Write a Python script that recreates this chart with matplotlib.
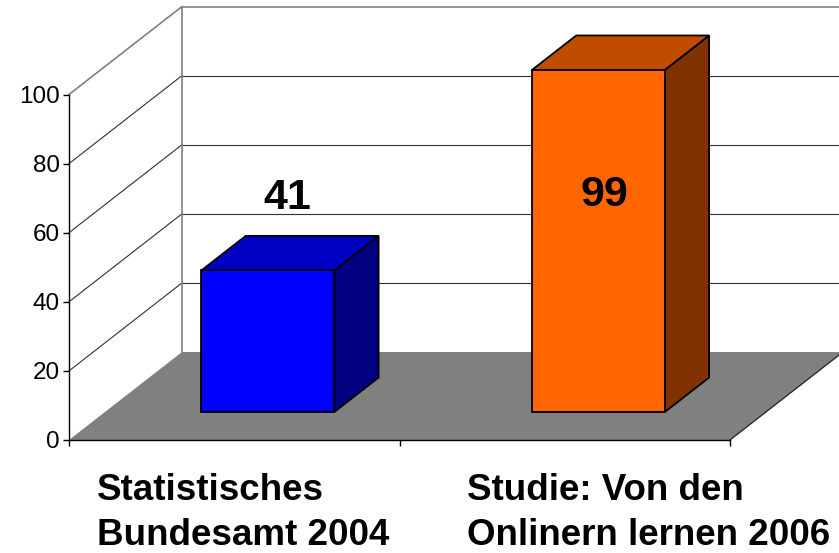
import matplotlib
matplotlib.use("Agg")
import matplotlib.pyplot as plt
from matplotlib.patches import Polygon

# ---- data ----
categories = ["Statistisches\nBundesamt 2004", "Studie: Von den\nOnlinern lernen 2006"]
values = [41, 99]
yticks = [0, 20, 40, 60, 80, 100]

# ---- styles / layout ----
front_colors = ["#0000FF", "#FF6600"]
top_colors = ["#0000C4", "#C04C00"]
side_colors = ["#000080", "#803300"]
FLOOR = "#808080"
WALL_EDGE = "#808080"
FONT = "Liberation Sans"

W, H = 839, 553
fig = plt.figure(figsize=(W / 100, H / 100), dpi=100)
ax = fig.add_axes([69 / W, (H - 440) / H, (730 - 69) / W, 345.5 / H])
n = len(categories)
ax.set_xlim(0, n)
ax.set_ylim(0, 100)
ax.patch.set_alpha(0)

# oblique depth offsets (in data units per unit depth)
DX = 113 / 330.5
DY = 88 / 3.455


def proj(x, d, v):
    return (x + d * DX, v + d * DY)


# floor
floor = Polygon([proj(0, 0, 0), proj(n, 0, 0), proj(n, 1, 0), proj(0, 1, 0)],
                closed=True, facecolor=FLOOR, edgecolor="none", clip_on=False, zorder=1)
ax.add_patch(floor)
ax.plot(*zip(proj(n, 0, 0), proj(n, 1, 0)), color="#202020", lw=0.9,
        clip_on=False, zorder=1.2)

# walls: gridlines
for v in yticks[1:]:
    c = WALL_EDGE if v == yticks[-1] else "#303030"
    lw = 1.2 if v == yticks[-1] else 0.8
    # left side wall
    ax.plot(*zip(proj(0, 0, v), proj(0, 1, v)), color=c, lw=lw, clip_on=False, zorder=1.1)
    # back wall
    ax.plot(*zip(proj(0, 1, v), proj(n + 0.05, 1, v)), color=c, lw=lw, clip_on=False, zorder=1.1)
ax.plot(*zip(proj(0, 1, 0), proj(0, 1, yticks[-1])), color=WALL_EDGE, lw=1.2,
        clip_on=False, zorder=1.1)

# bars
HALF_W = 0.201
D0, D1 = 0.318, 0.71
for i, v in enumerate(values):
    xc = i + 0.493
    xl, xr = xc - HALF_W, xc + HALF_W
    front = [proj(xl, D0, 0), proj(xr, D0, 0), proj(xr, D0, v), proj(xl, D0, v)]
    top = [proj(xl, D0, v), proj(xr, D0, v), proj(xr, D1, v), proj(xl, D1, v)]
    side = [proj(xr, D0, 0), proj(xr, D1, 0), proj(xr, D1, v), proj(xr, D0, v)]
    for pts, col in ((side, side_colors[i]), (top, top_colors[i]), (front, front_colors[i])):
        ax.add_patch(Polygon(pts, closed=True, facecolor=col, edgecolor="black",
                             lw=1.3, joinstyle="miter", clip_on=False, zorder=3))

# value labels
LABEL_Y = [70.0, 71.0]
LABEL_DX = [0.167, 0.126]
for i, v in enumerate(values):
    ax.text(i + 0.493 + LABEL_DX[i], LABEL_Y[i], str(v), ha="center", va="center",
            fontsize=31, fontweight="bold", family=FONT, zorder=5)

# category labels (baseline of last line)
CAT_X = [0.085, 1.203]
CAT_Y = -30.4
for i, c in enumerate(categories):
    ax.text(CAT_X[i], CAT_Y, c, ha="left", va="baseline", multialignment="left",
            fontsize=26.5, fontweight="bold", family=FONT, linespacing=1.38)

# axes
for s in ("top", "right"):
    ax.spines[s].set_visible(False)
for s in ("left", "bottom"):
    ax.spines[s].set_color("black")
    ax.spines[s].set_linewidth(1.0)
    ax.spines[s].set_zorder(4)
ax.set_yticks(yticks)
ax.set_yticklabels([str(t) for t in yticks], fontsize=17.5, family=FONT)
ax.set_xticks(range(n + 1))
ax.set_xticklabels([])
ax.tick_params(axis="y", direction="out", length=4.5, width=1.0, pad=2)
ax.tick_params(axis="x", direction="out", length=4.5, width=1.0)

fig.savefig("out.png", dpi=100)
